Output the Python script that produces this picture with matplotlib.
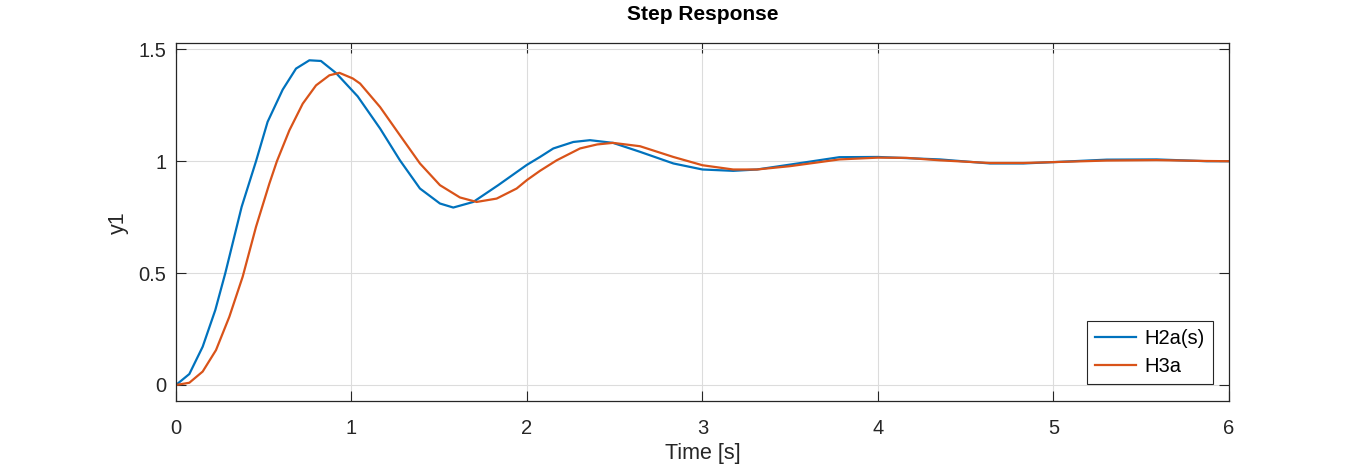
import matplotlib
matplotlib.use("Agg")
import matplotlib.pyplot as plt

# step response samples
t_h2a = [0.0, 0.076, 0.152, 0.224, 0.281, 0.374, 0.456, 0.522, 0.608, 0.684,
         0.76, 0.826, 0.912, 1.035, 1.163, 1.276, 1.39, 1.504, 1.58, 1.694,
         1.836, 1.998, 2.074, 2.15, 2.264, 2.359, 2.49, 2.644, 2.834, 3.0,
         3.175, 3.31, 3.5, 3.78, 4.0, 4.353, 4.638, 4.828, 5.0, 5.303,
         5.588, 5.873, 6.0]
y_h2a = [0.0, 0.049, 0.171, 0.335, 0.5, 0.796, 1.0, 1.176, 1.32, 1.414,
         1.451, 1.448, 1.394, 1.29, 1.146, 1.004, 0.878, 0.811, 0.793, 0.818,
         0.893, 0.983, 1.019, 1.057, 1.086, 1.094, 1.082, 1.042, 0.99, 0.963,
         0.957, 0.963, 0.985, 1.018, 1.019, 1.008, 0.99, 0.99, 0.996, 1.007,
         1.008, 1.0, 1.0]

t_h3a = [0.0, 0.076, 0.152, 0.228, 0.304, 0.38, 0.456, 0.532, 0.575, 0.646,
         0.722, 0.798, 0.874, 0.931, 1.007, 1.049, 1.163, 1.276, 1.39, 1.504,
         1.618, 1.713, 1.827, 1.941, 2.0, 2.074, 2.169, 2.302, 2.4, 2.49,
         2.644, 2.834, 3.0, 3.175, 3.31, 3.5, 3.78, 4.0, 4.163, 4.353,
         4.638, 4.828, 5.0, 5.303, 5.588, 5.873, 6.0]
y_h3a = [0.0, 0.01, 0.06, 0.156, 0.305, 0.484, 0.707, 0.9, 1.0, 1.138,
         1.257, 1.339, 1.384, 1.395, 1.37, 1.347, 1.242, 1.116, 0.99, 0.893,
         0.838, 0.818, 0.833, 0.878, 0.916, 0.957, 1.004, 1.057, 1.075, 1.082,
         1.067, 1.019, 0.982, 0.963, 0.963, 0.978, 1.008, 1.016, 1.015, 1.004,
         0.992, 0.992, 0.996, 1.003, 1.005, 1.001, 1.0]

labels = ["H2a(s)", "H3a"]
colors = ["#0072BD", "#D95319"]
x_ticks = [0, 1, 2, 3, 4, 5, 6]
y_ticks = [0, 0.5, 1, 1.5]
y_tick_labels = ["0", "0.5", "1", "1.5"]

plt.rcParams["font.family"] = ["Liberation Sans", "DejaVu Sans"]

fig = plt.figure(figsize=(13.58, 4.66), dpi=100)
ax = fig.add_axes([0.1296, 0.1388, 0.7754, 0.7683])

ax.plot(t_h2a, y_h2a, color=colors[0], linewidth=1.6, label=labels[0])
ax.plot(t_h3a, y_h3a, color=colors[1], linewidth=1.6, label=labels[1])

ax.set_xlim(0, 6)
ax.set_ylim(-0.073, 1.527)
ax.set_xticks(x_ticks)
ax.set_yticks(y_ticks)
ax.set_yticklabels(y_tick_labels)
ax.grid(True, color="#dcdcdc", linewidth=0.8)
ax.set_axisbelow(True)
ax.tick_params(direction="in", length=7, width=0.8, labelsize=14.5,
               top=True, right=True, colors="#262626")
ax.tick_params(axis="x", pad=13)
ax.tick_params(axis="y", pad=7)
for sp in ax.spines.values():
    sp.set_color("#262626")
    sp.set_linewidth(0.9)

ax.set_xlabel("Time [s]", fontsize=15.5, color="#262626", labelpad=3)
ax.set_ylabel("y1", fontsize=15.5, color="#262626", labelpad=7)
ax.set_title("Step Response", fontsize=15, fontweight="bold", pad=17)

leg = ax.legend(loc="lower right", bbox_to_anchor=(0.9848, 0.048),
                borderaxespad=0, fontsize=14.5, fancybox=False,
                framealpha=1, edgecolor="#262626", handlelength=2.0,
                handletextpad=0.45, borderpad=0.4, labelspacing=0.45)
leg.get_frame().set_linewidth(0.8)

fig.savefig("out.png", dpi=100)
